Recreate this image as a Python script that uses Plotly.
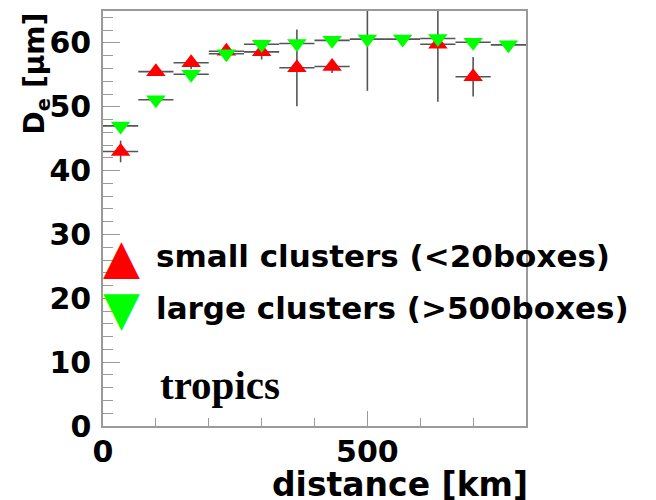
import plotly.graph_objects as go

# bin centres (km) and half widths
distance = [33.3, 100.0, 166.7, 233.3, 300.0, 366.7, 433.3, 500.0, 566.7, 633.3, 700.0, 766.7]
half_bin = [33.3] * 12

small_De = [43.0, 55.5, 56.9, 58.7, 58.6, 56.1, 56.3, None, None, 59.8, 54.7, None]
small_err = [1.7, 0.5, 1.0, 0.8, 1.2, 6.0, 1.0, 0, 0, 9.0, 3.1, 0]

large_De = [47.0, 51.1, 55.1, 58.3, 59.8, 59.9, 60.4, 60.6, 60.6, 60.7, 60.1, 59.7]
large_err = [0.6, 0.5, 0.6, 0.5, 0.5, 0.6, 0.5, 8.1, 0.5, 0.6, 0.5, 0.5]

legend_labels = ["small clusters (<20boxes)", "large clusters (>500boxes)"]
x_ticks = [0, 500]
y_ticks = [0, 10, 20, 30, 40, 50, 60]

ERR = "#555555"
AX = "#9a9a9a"

fig = go.Figure()
fig.add_trace(go.Scatter(
    x=distance, y=small_De, mode="markers",
    marker=dict(symbol="triangle-up", size=17, color="#ff0000"),
    error_x=dict(type="data", array=half_bin, color=ERR, thickness=1.6, width=0),
    error_y=dict(type="data", array=small_err, color=ERR, thickness=1.6, width=0),
    showlegend=False,
))
fig.add_trace(go.Scatter(
    x=distance, y=large_De, mode="markers",
    marker=dict(symbol="triangle-down", size=17, color="#00ff00"),
    error_x=dict(type="data", array=half_bin, color=ERR, thickness=1.6, width=0),
    error_y=dict(type="data", array=large_err, color=ERR, thickness=1.6, width=0),
    showlegend=False,
))

tickfont = dict(family="DejaVu Sans", size=30, color="black", weight="bold")

fig.update_xaxes(
    range=[0, 800], tickvals=x_ticks, ticktext=[str(v) for v in x_ticks],
    ticks="inside", ticklen=15, tickcolor=AX, tickwidth=1,
    minor=dict(dtick=100, ticks="inside", ticklen=8, tickcolor=AX),
    showline=True, linecolor=AX, linewidth=1.5, mirror=True,
    showgrid=False, zeroline=False, tickfont=tickfont, ticklabelstandoff=-2,
)
fig.update_yaxes(
    range=[0, 65], tickvals=y_ticks, ticktext=[str(v) for v in y_ticks],
    ticks="inside", ticklen=17, tickcolor=AX, tickwidth=1,
    minor=dict(dtick=2, ticks="inside", ticklen=10, tickcolor=AX),
    showline=True, linecolor=AX, linewidth=1.5, mirror=True,
    showgrid=False, zeroline=False, tickfont=tickfont, ticklabelstandoff=4,
)

annos = []
# axis titles
annos.append(dict(x=1.01, y=-0.142, xref="paper", yref="paper", xanchor="right", yanchor="middle",
                  text="distance [km]", showarrow=False,
                  font=dict(family="DejaVu Sans", size=33, color="black", weight="bold")))
annos.append(dict(x=-0.158, y=0.85, xref="paper", yref="paper", xanchor="center", yanchor="middle",
                  text="D<sub>e</sub> [μm]", textangle=-90, showarrow=False,
                  font=dict(family="DejaVu Sans", size=28, color="black", weight="bold")))
# tropics label
annos.append(dict(x=0.13, y=0.098, xref="paper", yref="paper", xanchor="left", yanchor="middle",
                  text="tropics", showarrow=False,
                  font=dict(family="Liberation Serif, Times New Roman", size=41, color="black", weight="bold")))
# legend
leg_y = [0.41, 0.285]
leg_sym = ["▲", "▼"]
leg_col = ["#ff0000", "#00ff00"]
for lab, yy, sym, col in zip(legend_labels, leg_y, leg_sym, leg_col):
    annos.append(dict(x=-0.005, y=yy, xref="paper", yref="paper", xanchor="left", yanchor="middle",
                      text=sym, showarrow=False,
                      font=dict(family="DejaVu Sans", size=48, color=col)))
    annos.append(dict(x=0.12, y=yy, xref="paper", yref="paper", xanchor="left", yanchor="middle",
                      text=lab, showarrow=False,
                      font=dict(family="DejaVu Sans", size=31, color="black", weight="bold")))

fig.update_layout(
    width=656, height=500,
    margin=dict(l=103, r=130, t=9, b=74),
    plot_bgcolor="white", paper_bgcolor="white",
    annotations=annos,
)

fig.write_html("out.html", config={"displayModeBar": False},
               post_script="document.body.style.margin='0';")
